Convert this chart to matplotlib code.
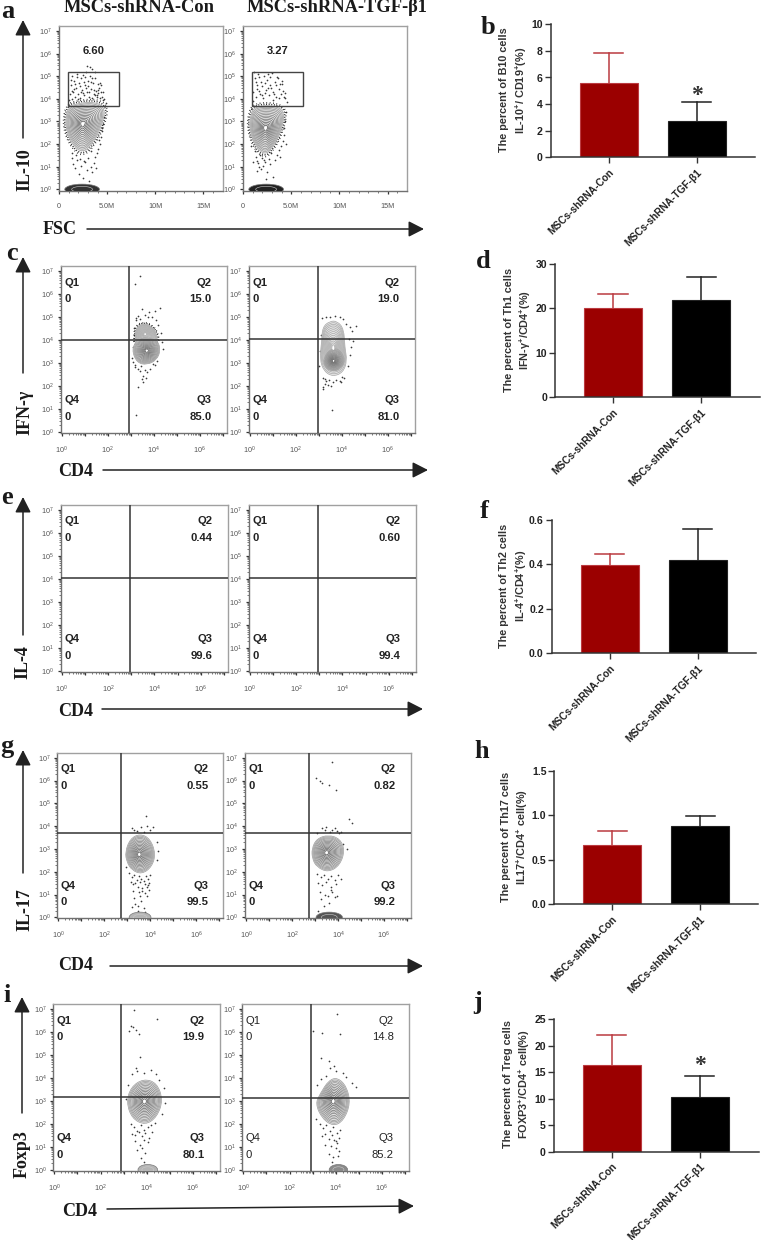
import numpy as np
import matplotlib
matplotlib.use("Agg")
import matplotlib.pyplot as plt
from matplotlib.path import Path
from matplotlib.patches import PathPatch, Ellipse, Rectangle

W, H = 761, 1240
SANS = "Liberation Sans"
SERIF = "Liberation Serif"
plt.rcParams["font.family"] = SANS
plt.rcParams["mathtext.default"] = "regular"

# bar charts
groups = ["MSCs-shRNA-Con", "MSCs-shRNA-TGF-β1"]
b10_mean = [5.56, 2.71]
b10_top = [7.84, 4.14]
th1_mean = [20.0, 21.9]
th1_top = [23.3, 27.0]
th2_mean = [0.398, 0.42]
th2_top = [0.447, 0.556]
th17_mean = [0.662, 0.879]
th17_top = [0.827, 0.988]
treg_mean = [16.27, 10.36]
treg_top = [22.05, 14.2]

# flow plots: outer contours (log10 units, panel a has FSC in millions)
a1_x = [1.63, 3.72, 4.86, 4.41, 3.54, 2.5, 1.53, 0.76, 0.69, 1.04]
a1_y = [3.78, 3.88, 3.58, 2.77, 2.04, 1.62, 1.89, 2.55, 3.22, 3.63]
a2_x = [1.28, 3.54, 4.34, 3.89, 3.02, 2.26, 1.28, 0.66, 0.76]
a2_y = [3.69, 3.69, 3.36, 2.48, 1.81, 1.52, 1.89, 2.63, 3.29]
c1_up_x = [3.19, 3.23, 3.55, 3.91, 4.16, 4.13, 3.19]
c1_up_y = [4.12, 4.56, 4.73, 4.61, 4.22, 3.78, 3.78]
c1_x = [3.04, 3.26, 3.70, 4.16, 4.30, 4.13, 3.70, 3.26]
c1_y = [3.57, 4.00, 4.12, 3.97, 3.57, 3.13, 2.91, 3.01]
c2_x = [3.16, 3.48, 3.80, 4.09, 4.13, 4.23, 4.06, 3.62, 3.22, 3.04, 3.12]
c2_y = [4.56, 4.82, 4.82, 4.48, 3.68, 3.10, 2.59, 2.40, 2.63, 3.17, 3.90]
c2_in_x = [3.19, 3.48, 3.91, 4.17, 3.91, 3.55, 3.26]
c2_in_y = [3.17, 3.61, 3.61, 3.10, 2.69, 2.63, 2.81]
g1_x = [2.90, 3.12, 3.55, 3.99, 4.23, 4.06, 3.62, 3.19, 2.97]
g1_y = [2.87, 3.45, 3.67, 3.45, 2.79, 2.21, 1.89, 2.07, 2.43]
g2_x = [2.86, 3.07, 3.58, 4.09, 4.30, 4.09, 3.58, 3.07, 2.88]
g2_y = [3.01, 3.45, 3.62, 3.45, 2.94, 2.29, 1.97, 2.21, 2.58]
i1_x = [3.12, 3.32, 3.87, 4.45, 4.71, 4.45, 3.94, 3.36]
i1_y = [2.95, 3.61, 3.97, 3.78, 3.03, 2.30, 1.94, 2.23]
i2_x = [3.12, 3.33, 3.70, 4.09, 4.49, 4.64, 4.35, 3.91, 3.41]
i2_y = [2.88, 3.32, 3.90, 4.02, 3.61, 2.88, 2.15, 1.89, 2.23]

# single events
a1_dots_x = [1.1, 1.2, 1.3, 1.4, 1.5, 1.6, 1.7, 1.8, 1.9, 2.0, 2.1, 2.2, 2.3, 2.4, 2.5, 2.6, 2.7, 2.8, 2.9, 3.0, 3.1, 3.2,
             3.3, 3.4, 3.5, 3.6, 3.7, 3.8, 3.9, 4.0, 4.1, 4.2, 4.3, 4.4, 4.5, 4.6, 1.25, 1.55, 1.85, 2.15, 2.45, 2.75, 3.05,
             3.35, 3.65, 3.95, 4.25, 4.55, 1.05, 1.35, 1.65, 1.95, 2.25, 2.55, 2.85, 3.15, 3.45, 3.75, 4.05, 4.35, 4.7, 4.85,
             3.2, 3.4, 2.9, 3.7, 1.3, 1.5, 1.7, 1.9, 2.1, 2.3, 2.5, 2.7, 2.9, 3.1, 3.3, 1.4, 1.8, 2.2, 2.6, 3.0, 3.4,
             4.7, 4.6, 4.5, 4.4, 4.3, 4.1, 3.9, 3.7, 4.2, 4.5, 3.6, 3.3, 3.8]
a1_dots_y = [4.2, 4.6, 4.0, 5.0, 4.3, 4.8, 4.1, 4.5, 5.1, 4.2, 4.7, 4.05, 4.9, 4.4, 5.05, 4.15, 4.6, 5.2, 4.3, 4.8, 4.1, 5.0,
             4.45, 4.05, 4.7, 4.2, 4.9, 4.35, 4.1, 4.65, 4.25, 4.5, 4.05, 4.3, 4.1, 3.95, 4.85, 4.45, 4.95, 4.55, 4.25, 4.95,
             4.55, 4.75, 4.4, 4.15, 4.7, 4.3, 3.95, 4.35, 4.65, 4.0, 4.3, 4.75, 4.5, 4.3, 4.9, 4.15, 4.4, 4.6, 4.0, 3.8,
             5.4, 5.3, 5.45, 5.2, 1.4, 1.1, 0.95, 1.3, 0.7, 1.05, 0.5, 1.2, 0.85, 0.35, 1.0, 1.6, 1.5, 1.35, 1.25, 1.4, 0.75,
             3.2, 2.9, 2.6, 2.3, 2.0, 1.8, 1.6, 1.45, 2.2, 2.7, 1.15, 1.7, 0.95]
a2_dots_x = [1.0, 1.2, 1.3, 1.5, 1.6, 1.8, 1.9, 2.1, 2.2, 2.4, 2.5, 2.7, 2.8, 3.0, 3.1, 3.3, 3.4, 3.6, 3.7, 3.9, 4.0, 4.2,
             1.1, 1.4, 1.7, 2.0, 2.3, 2.6, 2.9, 3.2, 3.5, 3.8, 4.1, 4.4, 4.6, 1.05, 1.35, 1.65, 1.95, 2.25, 2.55, 2.85, 3.15,
             3.45, 3.75, 4.05, 4.35, 1.3, 1.6, 1.9, 2.2, 2.5, 2.8, 3.1, 1.2, 1.5, 1.8, 2.1, 2.4, 2.7, 1.4, 1.7, 2.0, 2.3,
             4.5, 4.4, 4.3, 4.2, 4.1, 3.9, 3.7, 3.5, 4.45, 3.8, 3.3, 2.9, 1.0, 1.15, 0.85]
a2_dots_y = [4.3, 4.9, 4.1, 4.6, 5.1, 4.2, 4.75, 4.05, 5.0, 4.4, 4.85, 4.15, 4.6, 5.15, 4.3, 4.75, 4.1, 4.9, 4.45, 4.2, 4.65, 4.1,
             5.2, 4.45, 4.95, 4.55, 4.25, 5.1, 4.5, 4.2, 4.95, 4.65, 4.35, 4.05, 3.85, 3.9, 4.75, 4.35, 4.15, 4.7, 4.5, 4.95, 3.95,
             4.6, 4.05, 4.8, 4.25, 1.45, 1.15, 0.9, 1.3, 0.75, 1.1, 0.55, 1.7, 1.25, 1.5, 1.05, 0.45, 1.35, 0.8, 1.0, 1.4, 1.2,
             3.4, 3.0, 2.7, 2.4, 2.15, 1.9, 1.75, 1.5, 2.0, 1.45, 1.3, 1.6, 1.2, 2.2, 1.9]
c1_dots_x = [3.41, 3.19, 3.23, 3.33, 3.48, 4.25, 4.06, 3.78, 3.48, 3.30, 3.22, 3.62, 3.90, 4.10, 4.20, 4.30, 4.36, 4.40, 3.15, 3.10,
             3.05, 3.42, 3.55, 3.70, 3.20, 3.30, 3.45, 3.60, 3.85, 3.95, 3.16, 3.24, 3.38, 3.75, 4.15, 4.05, 3.52, 3.68, 3.08, 3.12]
c1_dots_y = [6.77, 6.45, 0.73, 1.97, 2.30, 5.40, 5.25, 5.20, 5.35, 5.05, 4.85, 5.10, 5.00, 4.85, 4.65, 4.30, 3.90, 3.60, 4.50, 3.70,
             3.20, 2.65, 2.45, 2.60, 2.90, 2.75, 2.85, 2.70, 2.75, 2.95, 2.80, 4.95, 4.90, 4.98, 3.10, 2.90, 2.15, 2.35, 3.05, 4.20]
c2_dots_x = [3.15, 3.30, 3.50, 3.70, 3.90, 4.05, 4.20, 4.35, 4.45, 4.60, 4.30, 4.40, 4.35, 4.25, 3.10, 3.05, 3.02, 3.18, 3.30, 3.45,
             3.60, 3.75, 3.90, 4.00, 4.10, 3.20, 3.40, 3.58, 3.18, 3.25, 3.55, 4.50, 3.28, 3.95]
c2_dots_y = [4.95, 5.02, 5.00, 5.05, 4.98, 4.90, 4.70, 4.55, 4.40, 4.60, 4.05, 3.70, 3.35, 2.85, 4.20, 3.50, 2.85, 2.35, 2.20, 2.25,
             2.15, 2.25, 2.20, 2.40, 2.35, 1.95, 2.05, 0.95, 1.85, 2.10, 2.00, 3.95, 2.30, 2.15]
g1_dots_x = [3.80, 3.40, 3.20, 3.60, 3.85, 4.00, 4.10, 3.70, 3.30, 4.30, 4.35, 4.30, 2.95, 3.05, 3.20, 3.30, 3.40, 3.50, 3.60, 3.70,
             3.80, 3.90, 4.00, 3.25, 3.35, 3.45, 3.55, 3.65, 3.75, 3.85, 3.95, 3.25, 3.50, 3.75, 3.95, 3.30, 3.60, 3.85, 3.20, 3.45,
             3.70, 3.55, 3.35, 3.75, 3.15, 3.45, 3.65, 3.90]
g1_dots_y = [4.45, 3.80, 3.90, 3.95, 4.00, 3.85, 3.95, 3.75, 3.85, 3.30, 2.90, 2.50, 2.20, 1.95, 1.75, 1.85, 1.65, 1.80, 1.70, 1.60,
             1.80, 1.70, 1.85, 1.45, 1.50, 1.35, 1.55, 1.30, 1.45, 1.35, 1.50, 1.15, 1.10, 1.05, 1.20, 0.85, 0.70, 0.95, 0.45, 0.50,
             0.40, 0.95, 0.60, 0.25, 1.55, 0.30, 1.15, 1.40]
g2_dots_x = [3.20, 3.05, 3.30, 3.60, 3.90, 3.72, 4.50, 4.60, 3.50, 3.75, 3.95, 4.15, 3.30, 3.10, 3.45, 3.65, 3.85, 4.05, 4.20, 4.40,
             3.10, 3.25, 3.40, 3.55, 3.70, 3.85, 4.00, 4.15, 3.15, 3.30, 3.50, 3.70, 3.90, 3.20, 3.45, 3.70, 3.95, 3.25, 3.60, 3.85,
             3.40, 3.15, 3.55, 3.75]
g2_dots_y = [6.00, 6.10, 5.90, 5.80, 5.60, 6.80, 4.30, 4.15, 3.95, 3.85, 3.80, 3.75, 3.90, 3.70, 3.85, 3.75, 3.90, 3.70, 3.20, 3.00,
             1.90, 1.75, 1.85, 1.70, 1.80, 1.65, 1.85, 1.70, 1.50, 1.40, 1.55, 1.35, 1.45, 1.10, 1.00, 1.20, 0.95, 0.80, 0.65, 0.90,
             0.50, 0.30, 0.95, 1.10]
i1_dots_x = [3.47, 3.42, 3.33, 3.25, 3.55, 4.43, 3.65, 3.70, 3.55, 3.35, 3.60, 3.90, 4.20, 4.40, 4.55, 4.75, 4.80, 4.65, 3.20, 3.10,
             3.30, 3.45, 3.60, 3.75, 3.90, 4.05, 4.20, 4.35, 3.35, 3.50, 3.65, 3.80, 3.95, 4.10, 4.25, 3.50, 3.70, 3.90, 4.05, 3.60,
             3.80, 3.95, 3.75, 3.90]
i1_dots_y = [6.95, 6.20, 6.25, 6.05, 6.10, 6.55, 5.90, 4.90, 4.45, 4.15, 4.30, 4.20, 4.35, 4.15, 3.90, 3.55, 2.90, 2.45, 3.70, 3.10,
             2.00, 1.85, 1.70, 1.95, 1.75, 1.85, 1.95, 2.05, 1.55, 1.50, 1.65, 1.45, 1.60, 1.40, 1.65, 1.25, 1.10, 1.30, 1.20, 0.85,
             0.95, 0.75, 0.50, 0.35]
i2_dots_x = [4.05, 3.40, 3.00, 3.35, 4.20, 3.70, 3.95, 3.75, 4.00, 4.30, 4.45, 4.70, 4.90, 3.60, 3.35, 3.20, 3.15, 3.30, 3.45, 3.60,
             3.75, 3.90, 4.05, 4.20, 3.40, 3.55, 3.70, 3.85, 4.00, 4.15, 3.55, 3.80, 4.00, 4.15, 3.70, 3.90, 4.10, 3.85, 4.05, 3.95]
i2_dots_y = [6.80, 5.95, 6.05, 4.85, 5.90, 4.75, 4.50, 4.45, 4.30, 4.20, 4.05, 3.80, 3.60, 4.10, 3.95, 3.70, 2.20, 2.00, 1.80, 1.95,
             1.70, 1.85, 1.60, 1.75, 1.45, 1.55, 1.35, 1.50, 1.25, 1.40, 1.10, 1.05, 0.95, 0.80, 0.70, 0.55, 0.60, 0.35, 1.15, 1.30]

# events piled on the lower axis: centre x, width, colour
a1_blob = [2.4, 3.6, "#333333"]
a2_blob = [2.4, 3.6, "#222222"]
g1_blob = [3.55, 0.95, "#b5b5b5"]
g2_blob = [3.62, 1.15, "#555555"]
i1_blob = [4.05, 0.85, "#b5b5b5"]
i2_blob = [4.12, 0.8, "#8a8a8a"]

LEVELS = [1.0, 0.94, 0.88, 0.82, 0.75, 0.68, 0.61, 0.54, 0.47, 0.40, 0.33, 0.26, 0.19, 0.12]
RED = "#9b0000"
RED_EDGE = "#bb3a40"


def px_axes(x0, y0, x1, y1):
    return fig.add_axes([x0 / W, 1 - y1 / H, (x1 - x0) / W, (y1 - y0) / H])


def outline_path(xs, ys, scale=1.0):
    # closed curve through the midpoints of the read outline
    pts = np.column_stack([xs, ys])
    c = pts.mean(axis=0)
    pts = c + scale * (pts - c)
    n = len(pts)
    verts = [(pts[-1] + pts[0]) / 2]
    codes = [Path.MOVETO]
    for i in range(n):
        verts += [pts[i], (pts[i] + pts[(i + 1) % n]) / 2]
        codes += [Path.CURVE3, Path.CURVE3]
    return Path(verts, codes)


def contours(ax, xs, ys, light=False, rim=True):
    if rim:
        for k, dash in ((1.07, (0.6, 1.1)), (1.14, (0.5, 1.7))):
            ax.add_patch(PathPatch(outline_path(xs, ys, k), fc="none", ec="#222222", lw=1.1,
                                   ls=(0, dash), zorder=2))
    for n, k in enumerate(LEVELS):
        shade = 0.66 if light else 0.62 - 0.30 * n / len(LEVELS)
        fc = "#e6e6e6" if n == 0 else "none"
        ax.add_patch(PathPatch(outline_path(xs, ys, k), fc=fc, ec=str(shade), lw=0.5, zorder=3))
    ax.add_patch(PathPatch(outline_path(xs, ys, 0.07), fc="white", ec="none", zorder=4))


def flow_ticks(ax, fsc=False):
    minors = []
    for k in range(0, 7):
        minors += list(k + np.log10(np.arange(2, 10)))
    ax.set_yticks(range(8))
    ax.set_yticklabels(["$10^{%d}$" % k for k in range(8)])
    ax.set_yticks(minors, minor=True)
    if fsc:
        ax.set_xticks([0, 5, 10, 15])
        ax.set_xticklabels(["0", "5.0M", "10M", "15M"])
        ax.set_xticks(np.arange(1, 17), minor=True)
    else:
        ax.set_xticks(range(8))
        ax.set_xticklabels(["$10^{%d}$" % k if k in (0, 2, 4, 6) else "" for k in range(8)])
        ax.set_xticks([m for m in minors if m < 7.1], minor=True)
    ax.tick_params(axis="both", which="major", length=2.5, width=0.9, color="#333333",
                   labelsize=5.2, labelcolor="#555555")
    ax.tick_params(axis="y", which="major", pad=2.5)
    ax.tick_params(axis="x", which="major", pad=6)
    ax.tick_params(axis="both", which="minor", length=1.2, width=0.5, color="#444444")
    for side in ("top", "right"):
        ax.spines[side].set_color("#a0a0a0")
    for side in ("left", "bottom"):
        ax.spines[side].set_color("#707070")
    for s in ax.spines.values():
        s.set_linewidth(1.0)


def quad_panel(box, gate, labels, weight="bold"):
    ax = px_axes(*box)
    ax.set_xlim(-0.05, 7.17)
    ax.set_ylim(-0.04, 7.22)
    flow_ticks(ax)
    ax.axvline(gate[0], color="#333333", lw=1.1, zorder=5)
    ax.axhline(gate[1], color="#333333", lw=1.1, zorder=5)
    kw = dict(transform=ax.transAxes, fontsize=8.1, fontweight=weight, color="#222222", va="center", zorder=6)
    ax.text(0.02, 0.90, "Q1", **kw)
    ax.text(0.02, 0.80, "0", **kw)
    ax.text(0.02, 0.194, "Q4", **kw)
    ax.text(0.02, 0.096, "0", **kw)
    ax.text(0.91, 0.90, "Q2", ha="right", **kw)
    ax.text(0.91, 0.80, labels[0], ha="right", **kw)
    ax.text(0.91, 0.194, "Q3", ha="right", **kw)
    ax.text(0.91, 0.096, labels[1], ha="right", **kw)
    return ax


def dots(ax, xs, ys):
    ax.scatter(xs, ys, s=1.5, color="#3a3a3a", linewidths=0, zorder=2)


def blob(ax, spec):
    cx, w, col = spec
    ax.add_patch(Ellipse((cx, 0.0), w, 0.46, fc=col, ec="#777777", lw=0.5, zorder=3))
    ax.add_patch(Ellipse((cx, 0.0), w * 0.6, 0.26, fc="none", ec="#cccccc", lw=0.4, zorder=3))


def bar_panel(box, ymax, yticks, ylabels, mean, top, label_x, label_y, label, star=None, xlim=None):
    ax = px_axes(*box)
    for i, (m, t) in enumerate(zip(mean, top)):
        col = RED if i == 0 else "black"
        ec = RED_EDGE if i == 0 else "#222222"
        ax.plot([i, i], [m, t], color=ec, lw=1.1, zorder=1)
        ax.plot([i - 0.165, i + 0.165], [t, t], color=ec, lw=1.1, zorder=1)
        ax.bar(i, m, width=0.66, color=col, edgecolor=ec, linewidth=0.8, zorder=2)
    ax.set_xlim(*xlim)
    ax.set_ylim(0, ymax)
    ax.set_yticks(yticks)
    ax.set_yticklabels(ylabels)
    ax.set_xticks([0, 1])
    ax.set_xticklabels(groups, rotation=45, ha="right", rotation_mode="anchor", fontsize=7.3)
    ax.tick_params(axis="both", length=4.2, width=1.0, color="#333333", labelcolor="#222222")
    ax.tick_params(axis="x", pad=3)
    ax.tick_params(axis="y", pad=1.5, labelsize=7.6)
    for t in ax.get_xticklabels() + ax.get_yticklabels():
        t.set_fontweight("bold")
    for side in ("top", "right"):
        ax.spines[side].set_visible(False)
    for side in ("left", "bottom"):
        ax.spines[side].set_linewidth(1.1)
        ax.spines[side].set_color("#333333")
    ax.patch.set_alpha(0)
    if star is not None:
        ax.text(1, star, "*", fontsize=17, fontweight="bold", family=SERIF, color="#333333", ha="center", va="center")
    ov.text(label_x, label_y, label, rotation=90, ha="center", va="center", fontsize=7.8, fontweight="bold",
            color="#333333", linespacing=1.35, multialignment="center")


def arrow(p0, p1):
    ov.annotate("", xy=p1, xytext=p0, arrowprops=dict(
        arrowstyle="-|>,head_length=9.4,head_width=4.8", lw=1.1, color="#222222",
        mutation_scale=1, shrinkA=0, shrinkB=0))


fig = plt.figure(figsize=(W / 100, H / 100), dpi=100)

ov = fig.add_axes([0, 0, 1, 1], zorder=-1)
ov.set_xlim(0, W)
ov.set_ylim(H, 0)
ov.axis("off")

serif_kw = dict(family=SERIF, fontweight="bold", color="#1a1a1a", ha="center", va="center")
ov.text(139, 8, groups[0], fontsize=13.3, **serif_kw)
ov.text(337, 8, groups[1], fontsize=13.3, **serif_kw)

for s, x, y in [("a", 8, 11), ("b", 488, 28), ("c", 12, 253), ("d", 483, 261), ("e", 7, 497),
                ("f", 484, 512), ("g", 7, 747), ("h", 482, 752), ("i", 7, 996), ("j", 478, 1002)]:
    ov.text(x, y, s, fontsize=19, **serif_kw)

for s, x, y in [("FSC", 60, 229), ("CD4", 76, 471), ("CD4", 76, 712), ("CD4", 76, 965), ("CD4", 80, 1211)]:
    ov.text(x, y, s, fontsize=13, **serif_kw)
for s, x, y in [("IL-10", 25, 170), ("IFN-γ", 25, 412), ("IL-4", 23, 662), ("IL-17", 25, 910), ("Foxp3", 22, 1154)]:
    ov.text(x, y, s, fontsize=13, rotation=90, **serif_kw)

arrow((23, 138), (23, 20))
arrow((87, 229), (424, 229))
arrow((23, 373), (23, 257))
arrow((103, 470), (428, 470))
arrow((23, 635), (23, 497))
arrow((102, 709), (423, 709))
arrow((23, 873), (23, 750))
arrow((110, 966), (423, 966))
arrow((22, 1113), (22, 997))
arrow((107, 1209), (414, 1206))

# a
for box, xs, ys, dx, dy, bl, val in [((59, 26, 222.7, 190.7), a1_x, a1_y, a1_dots_x, a1_dots_y, a1_blob, "6.60"),
                                     ((243, 26, 407, 190.7), a2_x, a2_y, a2_dots_x, a2_dots_y, a2_blob, "3.27")]:
    ax = px_axes(*box)
    ax.set_xlim(0, 17)
    ax.set_ylim(-0.06, 7.22)
    flow_ticks(ax, fsc=True)
    dots(ax, dx, dy)
    contours(ax, xs, ys)
    blob(ax, bl)
    ax.add_patch(Rectangle((0.98, 3.69), 5.27, 1.51, fc="none", ec="#444444", lw=1.0, zorder=5))
    ax.text(3.6, 6.1, val, fontsize=8.1, fontweight="bold", color="#222222", ha="center", va="center")

# c
ax = quad_panel((60.7, 266, 226.7, 432.7), (2.91, 4.0), ("15.0", "85.0"))
dots(ax, c1_dots_x, c1_dots_y)
contours(ax, c1_up_x, c1_up_y, light=True)
contours(ax, c1_x, c1_y, rim=False)
ax = quad_panel((248.7, 266, 414.7, 432.7), (2.96, 4.03), ("19.0", "81.0"))
dots(ax, c2_dots_x, c2_dots_y)
contours(ax, c2_x, c2_y, light=True, rim=False)
contours(ax, c2_in_x, c2_in_y, rim=False)

# e
quad_panel((60.7, 504.7, 227.7, 671.7), (2.93, 4.05), ("0.44", "99.6"))
quad_panel((248.7, 504.7, 415.7, 671.7), (2.93, 4.05), ("0.60", "99.4"))

# g
ax = quad_panel((57.3, 752.7, 223.3, 918.3), (2.72, 3.71), ("0.55", "99.5"))
dots(ax, g1_dots_x, g1_dots_y)
contours(ax, g1_x, g1_y, rim=False)
blob(ax, g1_blob)
ax = quad_panel((245, 752.7, 410.7, 918.3), (2.72, 3.71), ("0.82", "99.2"))
dots(ax, g2_dots_x, g2_dots_y)
contours(ax, g2_x, g2_y, rim=False)
blob(ax, g2_blob)

# i
ax = quad_panel((53.3, 1004, 219.7, 1170.7), (2.9, 3.17), ("19.9", "80.1"))
dots(ax, i1_dots_x, i1_dots_y)
contours(ax, i1_x, i1_y, rim=False)
blob(ax, i1_blob)
ax = quad_panel((242.3, 1004, 408.7, 1170.7), (2.92, 3.14), ("14.8", "85.2"), weight="normal")
dots(ax, i2_dots_x, i2_dots_y)
contours(ax, i2_x, i2_y, rim=False)
blob(ax, i2_blob)

# bar panels
bar_panel((550.7, 24.3, 755, 157.3), 10, [0, 2, 4, 6, 8, 10], ["0", "2", "4", "6", "8", "10"],
          b10_mean, b10_top, 514, 90, "The percent of B10 cells\nIL-10$^{+}$/ CD19$^{+}$(%)", star=4.65, xlim=(-0.659, 1.663))
bar_panel((555, 264, 760, 397), 30, [0, 10, 20, 30], ["0", "10", "20", "30"],
          th1_mean, th1_top, 518.5, 330, "The percent of Th1 cells\nIFN-γ$^{+}$/CD4$^{+}$(%)", xlim=(-0.659, 1.67))
bar_panel((551.7, 519.7, 756, 653), 0.6, [0, 0.2, 0.4, 0.6], ["0.0", "0.2", "0.4", "0.6"],
          th2_mean, th2_top, 514, 586, "The percent of Th2 cells\nIL-4$^{+}$/CD4$^{+}$(%)", xlim=(-0.659, 1.663))
bar_panel((554.3, 770.7, 757.7, 904.3), 1.5, [0, 0.5, 1.0, 1.5], ["0.0", "0.5", "1.0", "1.5"],
          th17_mean, th17_top, 515.5, 837, "The percent of Th17 cells\nIL17$^{+}$/CD4$^{+}$ cell(%)", xlim=(-0.659, 1.655))
bar_panel((553.7, 1019, 759, 1151.7), 25, [0, 5, 10, 15, 20, 25], ["0", "5", "10", "15", "20", "25"],
          treg_mean, treg_top, 517.5, 1084, "The percent of Treg cells\nFOXP3$^{+}$/CD4$^{+}$ cell(%)", star=16.2, xlim=(-0.659, 1.675))

fig.savefig("out.png", dpi=100)
